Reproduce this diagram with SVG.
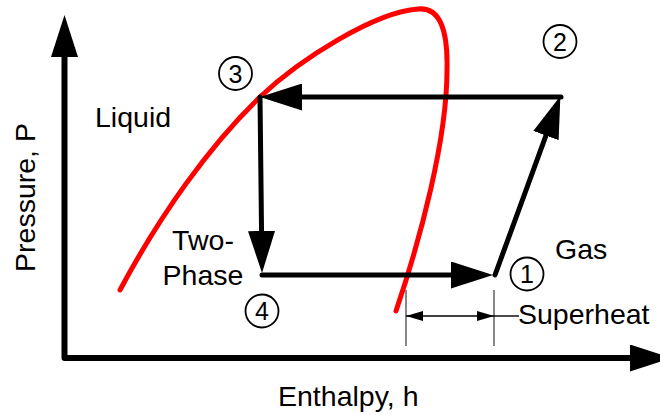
<svg xmlns="http://www.w3.org/2000/svg" width="660" height="415" viewBox="0 0 660 415">
  <style>
    .lbl { font-family: "Liberation Sans", Arial, sans-serif; font-size: 28.5px; fill: #000; }
    .num { font-family: "Liberation Sans", Arial, sans-serif; font-size: 25px; fill: #000; text-anchor: middle; }
    .ring { fill: none; stroke: #000; stroke-width: 1.8; }
    .flow { fill: none; stroke: #000; stroke-width: 5; stroke-linecap: round; }
    .axis { fill: none; stroke: #000; stroke-width: 6; stroke-linejoin: round; }
    .dim { fill: none; stroke: #555; stroke-width: 1.4; }
    .dimline { fill: none; stroke: #000; stroke-width: 1.4; }
    .dome { fill: none; stroke: #ff0000; stroke-width: 5; stroke-linecap: round; }
  </style>
  <defs>
    <marker id="big" markerUnits="userSpaceOnUse" markerWidth="42" markerHeight="27" refX="31" refY="13.5" orient="auto-start-reverse" viewBox="0 0 42 27">
      <path d="M0,0 L42,13.5 L0,27 z" fill="#000"/>
    </marker>
    <marker id="small" markerUnits="userSpaceOnUse" markerWidth="17" markerHeight="10" refX="17" refY="5" orient="auto-start-reverse" viewBox="0 0 17 10">
      <path d="M0,0 L17,5 L0,10 z" fill="#000"/>
    </marker>
  </defs>

  <g id="axes">
    <path class="axis" d="M64.5,26 V358 H661" marker-start="url(#big)" marker-end="url(#big)"/>
  </g>

  <g id="saturation-dome">
    <path class="dome" d="M120,290 C160,215 210,145 260,97 C300,59 375,12 418,9 C440,7 448,30 447,70 C447,140 420,240 396,311"/>
  </g>

  <g id="connectors">
    <path class="flow" d="M262,275 L482,275" marker-end="url(#big)"/>
    <path class="flow" d="M495,275 L556.6,106.4" marker-end="url(#big)"/>
    <path class="flow" d="M561,97 L271,97" marker-end="url(#big)"/>
    <path class="flow" d="M260,97 L261.9,262" marker-end="url(#big)"/>
  </g>

  <g id="superheat">
    <line class="dim" x1="406" y1="290" x2="406" y2="346"/>
    <line class="dim" x1="494" y1="290" x2="494" y2="346"/>
    <line class="dimline" x1="406" y1="316" x2="494" y2="316" marker-start="url(#small)" marker-end="url(#small)"/>
    <line class="dimline" x1="494" y1="316" x2="519" y2="316"/>
    <text class="lbl" x="518" y="324">Superheat</text>
  </g>

  <g id="state-1">
    <circle class="ring" cx="527" cy="274" r="16.5"/>
    <text class="num" x="527" y="283">1</text>
  </g>
  <g id="state-2">
    <circle class="ring" cx="560" cy="41.5" r="16.5"/>
    <text class="num" x="560" y="50.5">2</text>
  </g>
  <g id="state-3">
    <circle class="ring" cx="235.5" cy="73.5" r="16.5"/>
    <text class="num" x="235.5" y="82.5">3</text>
  </g>
  <g id="state-4">
    <circle class="ring" cx="262" cy="311" r="16.5"/>
    <text class="num" x="262" y="320">4</text>
  </g>

  <g id="region-labels">
    <text class="lbl" x="95" y="127">Liquid</text>
    <text class="lbl" x="203" y="250" text-anchor="middle">Two-</text>
    <text class="lbl" x="203" y="285" text-anchor="middle">Phase</text>
    <text class="lbl" x="555" y="259">Gas</text>
  </g>

  <g id="axis-labels">
    <text class="lbl" x="278" y="406">Enthalpy, h</text>
    <text class="lbl" transform="translate(35,197.5) rotate(-90)" text-anchor="middle">Pressure, P</text>
  </g>
</svg>
